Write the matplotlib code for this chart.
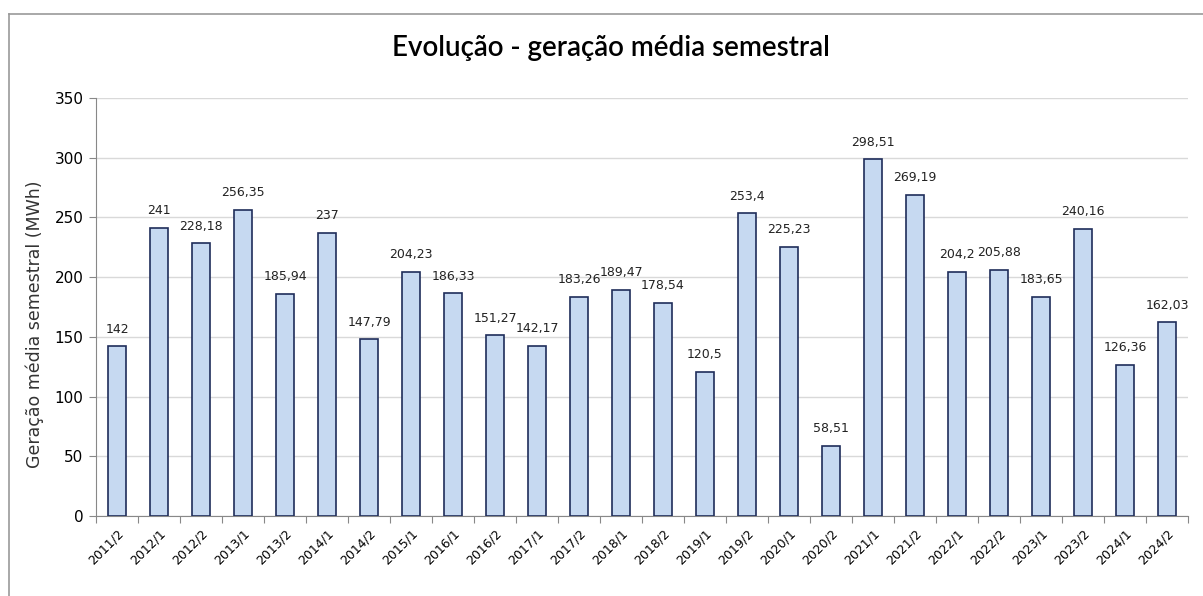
import matplotlib.pyplot as plt
from matplotlib.lines import Line2D

periodos = ["2011/2", "2012/1", "2012/2", "2013/1", "2013/2", "2014/1", "2014/2",
            "2015/1", "2016/1", "2016/2", "2017/1", "2017/2", "2018/1", "2018/2",
            "2019/1", "2019/2", "2020/1", "2020/2", "2021/1", "2021/2", "2022/1",
            "2022/2", "2023/1", "2023/2", "2024/1", "2024/2"]
geracao = [142, 241, 228.18, 256.35, 185.94, 237, 147.79, 204.23, 186.33, 151.27,
           142.17, 183.26, 189.47, 178.54, 120.5, 253.4, 225.23, 58.51, 298.51,
           269.19, 204.2, 205.88, 183.65, 240.16, 126.36, 162.03]
rotulos = ["142", "241", "228,18", "256,35", "185,94", "237", "147,79", "204,23",
           "186,33", "151,27", "142,17", "183,26", "189,47", "178,54", "120,5",
           "253,4", "225,23", "58,51", "298,51", "269,19", "204,2", "205,88",
           "183,65", "240,16", "126,36", "162,03"]

W, H = 1203, 596
fig = plt.figure(figsize=(W / 100, H / 100), dpi=100)
ax = fig.add_axes([96 / W, 1 - 516 / H, (1188 - 96) / W, (516 - 98) / H])

x = list(range(len(periodos)))
ax.bar(x, geracao, width=0.42, color="#c6d9f1", edgecolor="#1f2d5a", linewidth=1.2, zorder=3)
for xi, v, t in zip(x, geracao, rotulos):
    ax.text(xi, v + 9, t, ha="center", va="bottom", fontsize=9, color="#222222")

ax.set_xlim(-0.5, len(periodos) - 0.5)
ax.set_ylim(0, 350)
ax.set_yticks(range(0, 351, 50))
ax.tick_params(axis="y", labelsize=11, length=5, color="#888888", pad=4)
ax.set_xticks([i - 0.5 for i in range(len(periodos) + 1)], minor=False)
ax.set_xticklabels([])
ax.set_xticks(x, minor=True)
ax.set_xticklabels(periodos, minor=True, rotation=45, ha="right", rotation_mode="anchor",
                   fontsize=9)
ax.tick_params(axis="x", which="major", length=5, color="#888888")
ax.tick_params(axis="x", which="minor", length=0, pad=8)
ax.yaxis.grid(True, color="#d9d9d9", linewidth=1, zorder=0)
for s in ["top", "right"]:
    ax.spines[s].set_visible(False)
ax.spines["left"].set_color("#888888")
ax.spines["bottom"].set_color("#888888")

fig.text(35 / W, 1 - 324 / H, "Geração média semestral (MWh)", rotation=90,
         ha="center", va="center", fontsize=12.5, color="#333333")

fig.text(0.508, 1 - 48 / H, "Evolução - geração média semestral", ha="center", va="center",
         fontsize=20, fontfamily="Lato", fontweight="semibold")

# chart border
fig.add_artist(Line2D([9 / W, 1], [1 - 14 / H, 1 - 14 / H], color="#999999", lw=1.2))
fig.add_artist(Line2D([9 / W, 9 / W], [0, 1 - 14 / H], color="#999999", lw=1.2))

fig.savefig("out.png", dpi=100)
